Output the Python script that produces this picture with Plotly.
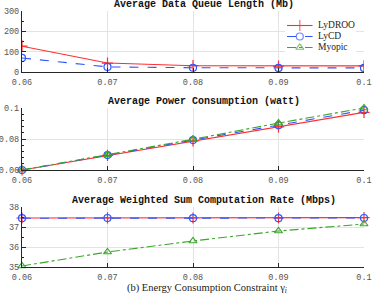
import plotly.graph_objects as go

x_vals = [0.06, 0.07, 0.08, 0.09, 0.1]
x_ticks = ["0.06", "0.07", "0.08", "0.09", "0.1"]

queue_lydroo = [127, 44, 31, 29, 30]
queue_lycd = [69, 25, 21, 20, 20]
queue_myopic = [None, None, None, None, None]

power_lydroo = [0.06, 0.0694, 0.0788, 0.0878, 0.0972]
power_lycd = [0.06, 0.0696, 0.0793, 0.0888, 0.0986]
power_myopic = [0.06, 0.0698, 0.0798, 0.0903, 0.1]

rate_lydroo = [37.45, 37.46, 37.45, 37.45, 37.47]
rate_lycd = [37.44, 37.45, 37.44, 37.44, 37.45]
rate_myopic = [35.05, 35.75, 36.3, 36.8, 37.15]

names = ["LyDROO", "LyCD", "Myopic"]
colors = ["#ff2d2d", "#2f55ff", "#3aa62a"]
dashes = ["solid", "dash", "dashdot"]
symbols = ["cross-thin-open", "circle-open", "triangle-up-open"]
msizes = [8, 7, 7]

panels = [
    dict(series=[queue_lydroo, queue_lycd, queue_myopic], rng=[0, 300], minor=50,
         title="Average Data Queue Length (Mb)", top=11, bottom=72, tv=[0, 100, 200, 300], tt=["0", "100", "200", "300"]),
    dict(series=[power_lydroo, power_lycd, power_myopic], rng=[0.06, 0.1], minor=0.004,
         title="Average Power Consumption (watt)", top=108, bottom=170, tv=[0.06, 0.08, 0.1], tt=["0.06", "0.08", "0.1"]),
    dict(series=[rate_lydroo, rate_lycd, rate_myopic], rng=[35, 38], minor=0.5,
         title="Average Weighted Sum Computation Rate (Mbps)", top=207, bottom=267, tv=[35, 36, 37, 38], tt=["35", "36", "37", "38"]),
]

W, H = 374, 294
x0, x1 = 22 / W, 364 / W
fig = go.Figure()
tickfont = dict(family="Liberation Mono, monospace", size=8.5, color="#555555")

for p_i, p in enumerate(panels):
    xa = "x" if p_i == 0 else f"x{p_i+1}"
    ya = "y" if p_i == 0 else f"y{p_i+1}"
    for s_i, vals in enumerate(p["series"]):
        fig.add_trace(go.Scatter(
            x=x_vals, y=vals, mode="lines+markers", name=names[s_i],
            xaxis=xa, yaxis=ya, showlegend=False,
            line=dict(color=colors[s_i], width=1.1, dash=dashes[s_i]),
            marker=dict(symbol=symbols[s_i], size=msizes[s_i], color=colors[s_i],
                        line=dict(color=colors[s_i], width=1.2)),
            cliponaxis=(p_i == 0),
        ))
    dom_y = [1 - p["bottom"] / H, 1 - p["top"] / H]
    xkey = "xaxis" if p_i == 0 else f"xaxis{p_i+1}"
    ykey = "yaxis" if p_i == 0 else f"yaxis{p_i+1}"
    fig.update_layout(**{
        xkey: dict(domain=[x0, x1], anchor=ya, range=[0.06, 0.1], tickvals=x_vals, ticktext=x_ticks,
                   showgrid=True, gridcolor="#e3e3e3", gridwidth=1, zeroline=False, automargin=False,
                   showline=True, linecolor="#262626", linewidth=1.2, ticklabelstandoff=2,
                   ticks="inside", ticklen=4, tickcolor="#262626", tickfont=tickfont),
        ykey: dict(domain=dom_y, anchor=xa, range=p["rng"], tickvals=p["tv"], ticktext=p["tt"],
                   showgrid=True, gridcolor="#e3e3e3", gridwidth=1, zeroline=False, automargin=False,
                   showline=True, linecolor="#262626", linewidth=1.2,
                   ticks="inside", ticklen=4, tickcolor="#262626", tickfont=tickfont,
                   minor=dict(dtick=p["minor"], ticks="inside", ticklen=2, tickcolor="#262626", showgrid=False)),
    })
    fig.add_annotation(text="<b>" + p["title"] + "</b>", xref="paper", yref="paper",
                       x=204 / W, y=1 - (p["top"] - 7) / H, xanchor="center", yanchor="middle",
                       showarrow=False, font=dict(family="Liberation Mono, monospace", size=10, color="#111111"))

# custom compact legend in the top panel (sample line with a marker in the middle)
leg_x = [0, 0.5, 1]
fig.update_layout(
    xaxis4=dict(domain=[285 / W, 356 / W], range=[-0.08, 2.7], visible=False, fixedrange=True, automargin=False,
                anchor="y4"),
    yaxis4=dict(domain=[1 - 53 / H, 1 - 20 / H], range=[3.5, 0.5], visible=False, fixedrange=True, automargin=False,
                anchor="x4"),
)
fig.add_trace(go.Scatter(x=[-0.08, 2.7, 2.7, -0.08, -0.08], y=[0.5, 0.5, 3.5, 3.5, 0.5], mode="lines",
                         fill="toself", fillcolor="white", line=dict(width=0), xaxis="x4", yaxis="y4",
                         showlegend=False, hoverinfo="skip"))
for s_i, nm in enumerate(names):
    fig.add_trace(go.Scatter(
        x=leg_x, y=[s_i + 1] * 3, mode="lines+markers", xaxis="x4", yaxis="y4", showlegend=False,
        line=dict(color=colors[s_i], width=1.1, dash=dashes[s_i]),
        marker=dict(symbol=symbols[s_i], size=[0, msizes[s_i], 0], color=colors[s_i],
                    line=dict(color=colors[s_i], width=1.2)),
        hoverinfo="skip", cliponaxis=False,
    ))
    fig.add_annotation(text=nm, xref="x4", yref="y4", x=1.15, y=s_i + 1, xanchor="left", yanchor="middle",
                       showarrow=False, font=dict(family="Liberation Serif, serif", size=9.5, color="#222222"))

fig.add_annotation(text="(b) Energy Consumption Constraint γ<sub><i>i</i></sub>", xref="paper", yref="paper",
                   x=207 / W, y=1 - 288 / H, xanchor="center", yanchor="middle", showarrow=False,
                   font=dict(family="Liberation Serif, serif", size=10.5, color="#222222"))

fig.update_layout(
    width=W, height=H, margin=dict(l=0, r=0, t=0, b=0),
    paper_bgcolor="white", plot_bgcolor="white", showlegend=False,
)

fig.write_html("out.html", config={"displayModeBar": False},
               post_script="document.body.style.margin='0';")
